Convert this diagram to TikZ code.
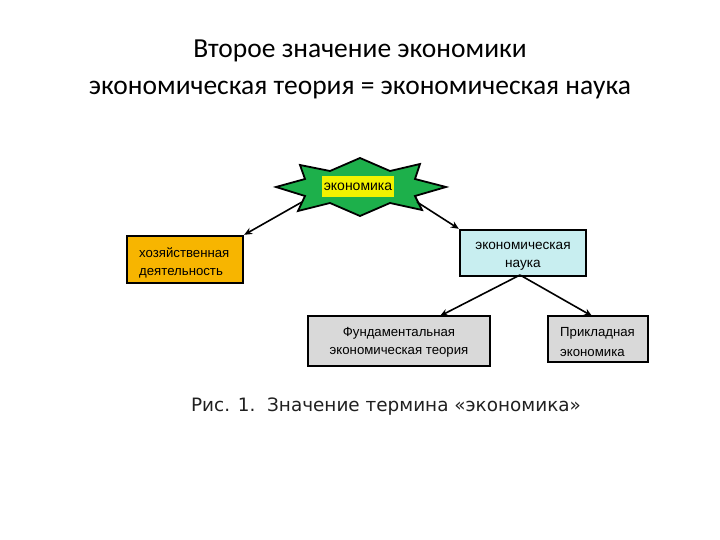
\documentclass[tikz,border=0pt]{standalone}
\usepackage{fontspec}
\setmainfont{Carlito}
\newfontfamily\arialf{Liberation Sans}
\newfontfamily\capf{DejaVu Sans}
\usetikzlibrary{arrows.meta}
\definecolor{stargreen}{HTML}{1DB04B}
\definecolor{lblyellow}{HTML}{F2F200}
\definecolor{orangebox}{HTML}{F7B500}
\definecolor{cyanbox}{HTML}{C8EEF0}
\definecolor{graybox}{HTML}{D9D9D9}
\definecolor{captext}{HTML}{202020}
\begin{document}
\begin{tikzpicture}[x=1pt,y=-1pt,
  conn/.style={draw=black,line width=1.6pt,-{Stealth[length=8pt,width=7pt]}},
  boxst/.style={draw=black,line width=2.4pt,inner sep=0pt},
  boxtext/.style={inner sep=0pt,font=\arialf\fontsize{13.2}{18}\selectfont,align=center},
]
\useasboundingbox (0,0) rectangle (720,540);
\node[font=\fontsize{27.5}{37}\selectfont,align=center] (title) at (360,69)
  {Второе значение экономики\\экономическая теория = экономическая наука};
% star
\draw[fill=stargreen,line width=1.8pt,line join=miter]
  (276,187) -- (305,179) -- (300,165) -- (330,171) -- (360,158) -- (390,171)
  -- (420,164) -- (415,179) -- (446,187) -- (415,196) -- (422,210)
  -- (390,203) -- (360,216) -- (330,203) -- (298,211) -- (305,196) -- cycle;
\node[fill=lblyellow,minimum width=72pt,minimum height=21pt,inner sep=0pt,
  font=\arialf\fontsize{14}{16}\selectfont] (eco) at (358,186.5) {экономика};
\coordinate (starL) at (302,202);
\coordinate (starR) at (417,202);
\node[boxst,fill=orangebox,minimum width=116pt,minimum height=47pt] (hoz) at (185,259.5) {};
\node[boxtext,anchor=west,align=left] (hoztext) at (139,263) {хозяйственная\\деятельность};
\node[boxst,fill=cyanbox,minimum width=126pt,minimum height=46pt] (nauka) at (523,253) {};
\node[boxtext,font=\arialf\fontsize{13.6}{18}\selectfont] (naukatext) at (523,256)
  {экономическая\\наука};
\node[boxst,fill=graybox,minimum width=182pt,minimum height=50pt] (fund) at (399,341) {};
\node[boxtext] (fundtext) at (399,342) {Фундаментальная\\экономическая теория};
\node[boxst,fill=graybox,minimum width=100pt,minimum height=46pt] (prikl) at (598,339) {};
\begin{scope}
  \clip (549.5,317.5) rectangle (646.5,360.5);
  \node[anchor=north west,inner sep=0pt,align=left,
    font=\arialf\fontsize{13.2}{20}\selectfont] (prtext) at (560,327)
    {Прикладная\\экономика};
\end{scope}
\coordinate (split) at (520,275);
\draw[conn] (starL) -- (hoz.north east);
\draw[conn] (starR) -- (nauka.north west);
\draw[conn] (split) -- (440,316);
\draw[conn] (split) -- (592,316);
\node[font=\capf\fontsize{18.4}{20}\selectfont,text=captext] (cap) at (386,407)
  {Рис. 1.\ \ Значение термина «экономика»};
\end{tikzpicture}
\end{document}
